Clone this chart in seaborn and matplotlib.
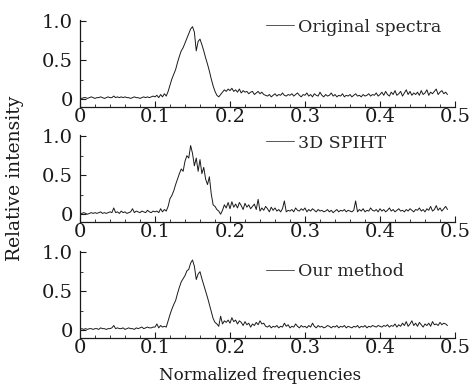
import numpy as np
import pandas as pd
import matplotlib
matplotlib.use("Agg")
import matplotlib.pyplot as plt
import seaborn as sns
from matplotlib.ticker import MultipleLocator

# Relative intensity sampled every 0.0025 in normalized frequency (0 .. 0.49)
original = [
    0.02,0.01,0.02,0.02,0.01,0.02,0.03,0.02,0.01,0.02,0.02,0.03,0.02,0.01,0.02,0.03,0.02,0.02,0.04,0.02,
    0.03,0.02,0.03,0.02,0.03,0.02,0.02,0.01,0.02,0.03,0.02,0.02,0.01,0.02,0.03,0.02,0.03,0.02,0.03,0.04,
    0.03,0.05,0.02,0.06,0.03,0.07,0.04,0.10,0.18,0.26,0.32,0.38,0.47,0.55,0.62,0.66,0.72,0.78,0.84,0.90,
    0.93,0.86,0.62,0.74,0.77,0.70,0.62,0.53,0.45,0.36,0.26,0.17,0.10,0.05,0.03,0.06,0.09,0.12,0.10,0.13,
    0.11,0.14,0.10,0.12,0.09,0.13,0.08,0.11,0.09,0.10,0.07,0.09,0.10,0.06,0.08,0.10,0.07,0.09,0.06,0.05,
    0.04,0.06,0.03,0.05,0.07,0.04,0.06,0.05,0.08,0.05,0.04,0.06,0.05,0.07,0.04,0.06,0.08,0.05,0.03,0.06,
    0.05,0.08,0.04,0.06,0.03,0.07,0.05,0.04,0.09,0.05,0.03,0.06,0.04,0.05,0.08,0.04,0.06,0.03,0.05,0.04,
    0.07,0.03,0.05,0.04,0.06,0.03,0.05,0.07,0.04,0.05,0.03,0.06,0.04,0.05,0.07,0.04,0.06,0.05,0.08,0.04,
    0.06,0.09,0.05,0.10,0.06,0.04,0.09,0.06,0.11,0.05,0.07,0.10,0.04,0.08,0.12,0.06,0.10,0.05,0.08,0.06,
    0.09,0.05,0.11,0.06,0.08,0.12,0.05,0.09,0.07,0.10,0.13,0.06,0.09,0.11,0.07,0.09,0.06,
]
spiht = [
    0.01,0.01,0.02,0.01,0.00,0.01,0.02,0.01,0.02,0.01,0.02,0.03,0.01,0.02,0.01,0.02,0.03,0.02,0.08,0.02,
    0.03,0.01,0.04,0.02,0.03,0.01,0.02,0.03,0.07,0.02,0.04,0.03,0.02,0.04,0.03,0.02,0.05,0.03,0.02,0.04,
    0.03,0.04,0.02,0.07,0.03,0.06,0.04,0.10,0.20,0.24,0.30,0.38,0.45,0.52,0.58,0.55,0.68,0.75,0.72,0.88,
    0.78,0.62,0.72,0.55,0.70,0.52,0.60,0.45,0.38,0.48,0.26,0.12,0.10,0.06,0.04,0.00,0.05,0.12,0.08,0.15,
    0.07,0.16,0.09,0.13,0.08,0.15,0.11,0.06,0.14,0.09,0.12,0.07,0.10,0.13,0.06,0.19,0.04,0.08,0.05,0.10,
    0.07,0.03,0.09,0.05,0.08,0.04,0.06,0.03,0.07,0.17,0.03,0.05,0.04,0.06,0.03,0.08,0.05,0.04,0.07,0.05,
    0.08,0.03,0.06,0.04,0.07,0.05,0.03,0.06,0.04,0.05,0.03,0.04,0.06,0.03,0.05,0.02,0.04,0.06,0.03,0.05,
    0.04,0.06,0.03,0.05,0.04,0.03,0.05,0.17,0.03,0.06,0.04,0.07,0.03,0.05,0.04,0.08,0.05,0.04,0.06,0.03,
    0.07,0.04,0.06,0.03,0.05,0.08,0.04,0.06,0.03,0.05,0.07,0.04,0.05,0.03,0.06,0.04,0.07,0.05,0.03,0.06,
    0.05,0.08,0.04,0.06,0.03,0.07,0.05,0.10,0.04,0.06,0.11,0.05,0.08,0.04,0.07,0.10,0.06,
]
ours = [
    0.01,0.02,0.01,0.02,0.01,0.02,0.02,0.01,0.02,0.02,0.01,0.03,0.02,0.02,0.01,0.02,0.02,0.03,0.06,0.02,
    0.03,0.02,0.02,0.03,0.01,0.02,0.03,0.02,0.02,0.01,0.03,0.02,0.03,0.04,0.02,0.03,0.04,0.03,0.03,0.04,
    0.04,0.08,0.03,0.06,0.04,0.05,0.04,0.12,0.20,0.27,0.33,0.38,0.47,0.55,0.62,0.66,0.70,0.76,0.78,0.86,
    0.90,0.82,0.65,0.72,0.75,0.66,0.58,0.50,0.42,0.33,0.24,0.15,0.10,0.08,0.05,0.18,0.08,0.12,0.10,0.13,
    0.09,0.16,0.11,0.13,0.08,0.12,0.10,0.06,0.11,0.07,0.09,0.04,0.08,0.06,0.10,0.07,0.12,0.08,0.09,0.05,
    0.04,0.06,0.03,0.05,0.04,0.06,0.03,0.05,0.04,0.09,0.05,0.07,0.03,0.05,0.04,0.08,0.05,0.03,0.06,0.04,
    0.05,0.03,0.06,0.04,0.09,0.05,0.03,0.06,0.04,0.05,0.03,0.04,0.06,0.05,0.03,0.05,0.04,0.06,0.03,0.05,
    0.04,0.06,0.03,0.05,0.04,0.03,0.05,0.04,0.06,0.03,0.05,0.04,0.06,0.03,0.05,0.04,0.06,0.05,0.04,0.06,
    0.05,0.04,0.06,0.05,0.07,0.04,0.06,0.05,0.08,0.04,0.07,0.05,0.09,0.06,0.11,0.05,0.08,0.12,0.06,0.09,
    0.05,0.10,0.07,0.04,0.08,0.06,0.09,0.05,0.11,0.07,0.08,0.06,0.10,0.07,0.09,0.08,0.06,
]
freq_start, freq_end = 0.0, 0.49
series_labels = ["Original spectra", "3D SPIHT", "Our method"]
x_ticks = [0, 0.1, 0.2, 0.3, 0.4, 0.5]
x_ticklabels = ["0", "0.1", "0.2", "0.3", "0.4", "0.5"]
y_ticks = [0, 0.5, 1.0]
y_ticklabels = ["0", "0.5", "1.0"]

sns.set_style("ticks")
plt.rcParams["font.family"] = ["DejaVu Serif"]
plt.rcParams["mathtext.fontset"] = "dejavuserif"

fig = plt.figure(figsize=(4.69, 3.84), dpi=100)
W, H = 469, 384
left_px, right_px = 80, 455
# (axes bottom px, legend text centre px)
panels = [(107, 27, series_labels[0], original),
          (222, 143, series_labels[1], spiht),
          (338, 272, series_labels[2], ours)]
ymin, ymax = -0.1, 1.02
unit_px = 78
h_px = (ymax - ymin) * unit_px

for bottom_px, leg_px, label, vals in panels:
    ax = fig.add_axes([left_px / W, (H - bottom_px) / H, (right_px - left_px) / W, h_px / H])
    freqs = np.linspace(freq_start, freq_end, len(vals))
    df = pd.DataFrame({"f": freqs, "v": vals})
    sns.lineplot(data=df, x="f", y="v", ax=ax, color="#1a1a1a", lw=0.7, label=label)
    ax.set_xlim(0, 0.5)
    ax.set_ylim(ymin, ymax)
    ax.set_xticks(x_ticks)
    ax.set_xticklabels(x_ticklabels)
    ax.set_yticks(y_ticks)
    ax.set_yticklabels(y_ticklabels)
    ax.xaxis.set_minor_locator(MultipleLocator(0.02))
    ax.yaxis.set_minor_locator(MultipleLocator(0.25))
    ax.tick_params(axis="both", which="major", direction="in", length=4, width=0.8,
                   labelsize=14, colors="#1a1a1a")
    ax.tick_params(axis="x", which="major", pad=1)
    ax.tick_params(axis="y", which="major", pad=5)
    ax.tick_params(axis="both", which="minor", direction="in", length=2, width=0.6, colors="#1a1a1a")
    ax.set_xlabel("")
    ax.set_ylabel("")
    for s in ["top", "right"]:
        ax.spines[s].set_visible(False)
    for s in ["left", "bottom"]:
        ax.spines[s].set_linewidth(0.9)
        ax.spines[s].set_color("#1a1a1a")
    leg_y = (bottom_px - leg_px) / h_px
    leg = ax.legend(loc="center left", frameon=False, fontsize=12.5, handlelength=1.6,
                    handletextpad=0.25, borderaxespad=0.0, borderpad=0.0,
                    bbox_to_anchor=((266 - left_px) / (right_px - left_px), leg_y))
    for line in leg.get_lines():
        line.set_linewidth(0.7)
        line.set_color("#555555")

fig.text(15 / W, 1 - 178 / H, "Relative intensity", rotation=90, ha="center", va="center",
         fontsize=13.5, color="#1a1a1a")
fig.text(260 / W, 1 - 376 / H, "Normalized frequencies", ha="center", va="center",
         fontsize=12, color="#1a1a1a")

fig.savefig("out.png", dpi=100)
